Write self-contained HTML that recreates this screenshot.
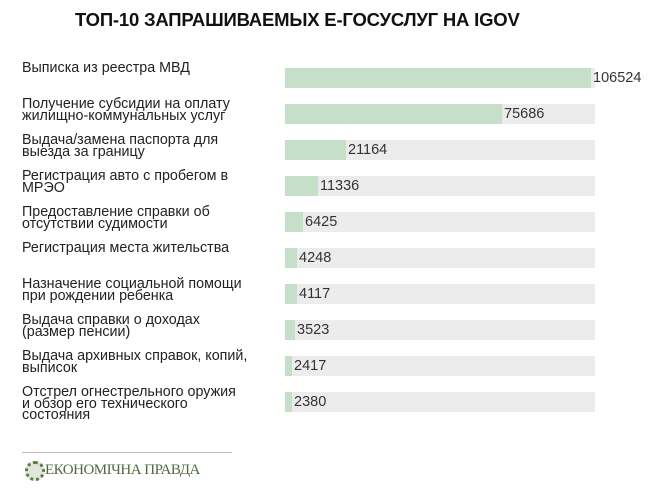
<!DOCTYPE html><html><head><meta charset="utf-8"><style>
body{margin:0;width:668px;height:493px;background:#fff;font-family:"Liberation Sans",sans-serif;position:relative;overflow:hidden;color:#222}
.t{position:absolute;left:75px;top:9px;font-size:18.5px;font-weight:bold;color:#111;letter-spacing:-0.2px}
.l{position:absolute;left:22px;font-size:14.3px;line-height:11.5px;color:#222;white-space:nowrap}
.tr{position:absolute;left:285px;width:310px;height:20px;background:#ececec}
.g{position:absolute;left:0;top:0;height:20px;background:#c5dfc8}
.v{position:absolute;top:2px;font-size:14.5px;color:#333}
</style></head><body>
<div class="t">ТОП-10 ЗАПРАШИВАЕМЫХ Е-ГОСУСЛУГ НА IGOV</div>
<div class="l" style="top:63px">Выписка из реестра МВД</div>
<div class="tr" style="top:68px"><div class="g" style="width:306px"></div><div class="v" style="left:308px">106524</div></div>
<div class="l" style="top:99px">Получение субсидии на оплату<br>жилищно-коммунальных услуг</div>
<div class="tr" style="top:104px"><div class="g" style="width:217px"></div><div class="v" style="left:219px">75686</div></div>
<div class="l" style="top:135px">Выдача/замена паспорта для<br>выезда за границу</div>
<div class="tr" style="top:140px"><div class="g" style="width:61px"></div><div class="v" style="left:63px">21164</div></div>
<div class="l" style="top:171px">Регистрация авто с пробегом в<br>МРЭО</div>
<div class="tr" style="top:176px"><div class="g" style="width:33px"></div><div class="v" style="left:35px">11336</div></div>
<div class="l" style="top:207px">Предоставление справки об<br>отсутствии судимости</div>
<div class="tr" style="top:212px"><div class="g" style="width:18px"></div><div class="v" style="left:20px">6425</div></div>
<div class="l" style="top:243px">Регистрация места жительства</div>
<div class="tr" style="top:248px"><div class="g" style="width:12px"></div><div class="v" style="left:14px">4248</div></div>
<div class="l" style="top:279px">Назначение социальной помощи<br>при рождении ребенка</div>
<div class="tr" style="top:284px"><div class="g" style="width:12px"></div><div class="v" style="left:14px">4117</div></div>
<div class="l" style="top:315px">Выдача справки о доходах<br>(размер пенсии)</div>
<div class="tr" style="top:320px"><div class="g" style="width:10px"></div><div class="v" style="left:12px">3523</div></div>
<div class="l" style="top:351px">Выдача архивных справок, копий,<br>выписок</div>
<div class="tr" style="top:356px"><div class="g" style="width:7px"></div><div class="v" style="left:9px">2417</div></div>
<div class="l" style="top:387px">Отстрел огнестрельного оружия<br>и обзор его технического<br>состояния</div>
<div class="tr" style="top:392px"><div class="g" style="width:7px"></div><div class="v" style="left:9px">2380</div></div>
<div style="position:absolute;left:22px;top:452px;width:210px;height:1px;background:#bbb"></div>
<div style="position:absolute;left:25px;top:461px;width:14px;height:14px;border-radius:50%;border:3px dotted #5a7a4a;background:#dfe8d8"></div>
<div style="position:absolute;left:45px;top:462px;font-family:'Liberation Serif',serif;font-size:15px;color:#4d6a40;letter-spacing:-0.5px">ЕКОНОМІЧНА ПРАВДА</div>
</body></html>
